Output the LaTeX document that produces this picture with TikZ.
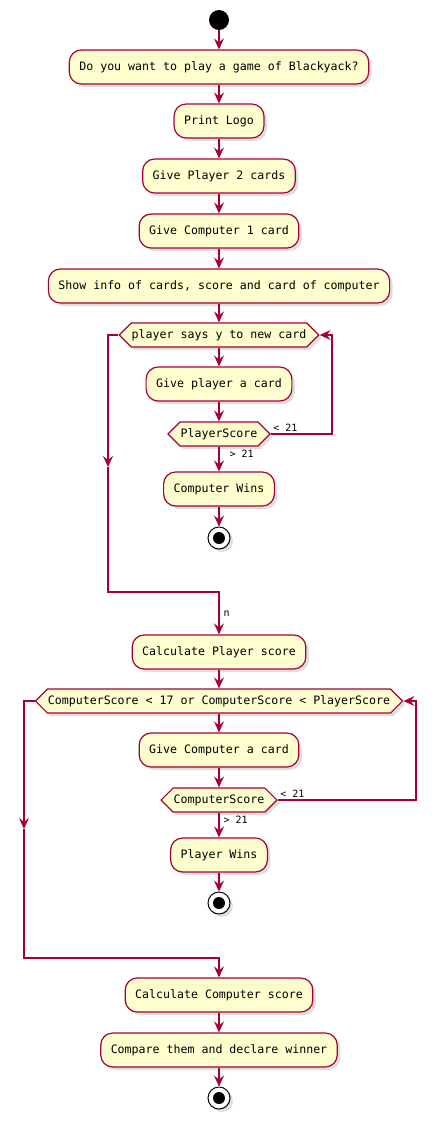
\documentclass[tikz,border=0pt]{standalone}
\usepackage{fontspec}
\newfontfamily\plmono{DejaVu Sans Mono}
\usetikzlibrary{arrows.meta,shapes.symbols,shadows}
\definecolor{plred}{HTML}{A80036}
\definecolor{plyel}{HTML}{FEFECE}
\begin{document}
\begin{tikzpicture}[x=1pt,y=-1pt,font=\plmono\fontsize{11.6}{13}\selectfont,
  shade/.style={drop shadow={opacity=.25,shadow xshift=3pt,shadow yshift=-3pt}},
  act/.style={draw=plred,fill=plyel,line width=1.2pt,rounded corners=12pt,
    minimum height=34pt,inner xsep=10pt,shade},
  cond/.style={signal,signal to=east and west,signal pointer angle=90,
    draw=plred,fill=plyel,line width=1.2pt,minimum height=24pt,
    inner xsep=.5pt,inner ysep=2pt,shade},
  start/.style={circle,fill=black,minimum size=20pt,inner sep=0pt},
  stop/.style={circle,draw=black,fill=white,line width=1pt,minimum size=22pt,
    inner sep=0pt,shade,
    path picture={\fill[black] (path picture bounding box.center) circle (6pt);}},
  flow/.style={draw=plred,line width=1.2pt,
    -{Stealth[length=11pt,width=10pt,inset=4pt]}},
  lbl/.style={font=\plmono\fontsize{10}{12}\selectfont,inner sep=2pt}]
\useasboundingbox (0,0) rectangle (434,1125);
\node[start] (st) at (219,20) {};
\node[act] (ask) at (219,67) {Do you want to play a game of Blackyack?};
\node[act] (logo) at (219,121) {Print Logo};
\node[act] (p2) at (219,176) {Give Player 2 cards};
\node[act] (c1) at (219,231) {Give Computer 1 card};
\node[act] (info) at (219,286) {Show info of cards, score and card of computer};
\node[cond] (ploop) at (219,335) {player says y to new card};
\node[act] (pcard) at (219,384) {Give player a card};
\node[cond] (pscore) at (219,434) {PlayerScore};
\node[act] (cwin) at (219,489) {Computer Wins};
\node[stop] (end1) at (219,538) {};
\node[act] (calcp) at (219,652) {Calculate Player score};
\node[cond] (cloop) at (219,701) {ComputerScore < 17 or ComputerScore < PlayerScore};
\node[act] (ccard) at (219,750) {Give Computer a card};
\node[cond] (cscore) at (219,800) {ComputerScore};
\node[act] (pwin) at (219,855) {Player Wins};
\node[stop] (end2) at (219,903) {};
\node[act] (calcc) at (219,995) {Calculate Computer score};
\node[act] (cmp) at (219,1050) {Compare them and declare winner};
\node[stop] (end3) at (219,1098) {};
\foreach \a/\b in {st/ask,ask/logo,logo/p2,p2/c1,c1/info,info/ploop,
  ploop/pcard,pcard/pscore,cwin/end1,calcp/cloop,cloop/ccard,ccard/cscore,
  pwin/end2,calcc/cmp,cmp/end3}
  \draw[flow] (\a.south) -- (\b.north);
\draw[flow] (pscore.south) -- node[lbl,pos=.3,anchor=west,xshift=8pt] {> 21} (cwin.north);
\draw[flow] (cscore.south) -- node[lbl,pos=.3,anchor=west,xshift=2pt] {> 21} (pwin.north);
\coordinate (pr) at (332,0);
\coordinate (cr) at (416,0);
\draw[flow] (pscore.east) node[lbl,anchor=south west] {< 21}
  -| (pr |- ploop.east) -- (ploop.east);
\draw[flow] (cscore.east) node[lbl,anchor=south west] {< 21}
  -| (cr |- cloop.east) -- (cloop.east);
\coordinate (lm1) at (108,467);
\coordinate (lb1) at (108,592);
\draw[flow] (ploop.west) -| (lm1);
\draw[flow] (lm1) -- (lb1) -| node[lbl,pos=.75,anchor=west,xshift=2pt] {n} (calcp.north);
\coordinate (lm2) at (24,829);
\coordinate (lb2) at (24,958);
\draw[flow] (cloop.west) -| (lm2);
\draw[flow] (lm2) -- (lb2) -| (calcc.north);
\end{tikzpicture}
\end{document}
